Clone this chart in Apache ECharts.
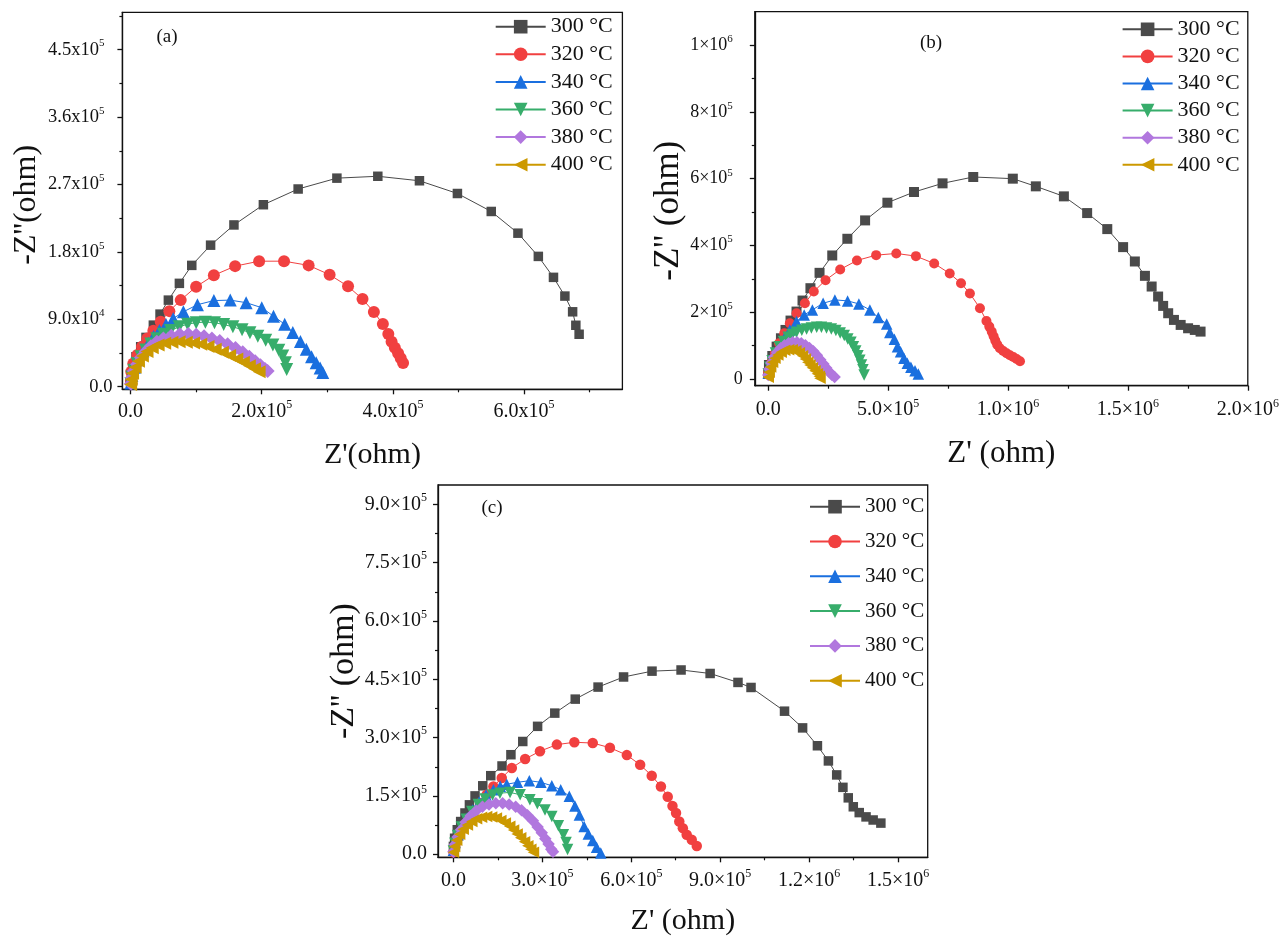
<!DOCTYPE html>
<html>
<head>
<meta charset="utf-8">
<script src="https://cdn.jsdelivr.net/npm/echarts@6/dist/echarts.min.js"></script>
<style>
  html, body { margin: 0; padding: 0; background: #fff; }
  #chart { width: 1283px; height: 936px; }
</style>
</head>
<body>
<div id="chart"></div>
<script>
var names = ['300 °C', '320 °C', '340 °C', '360 °C', '380 °C', '400 °C'];

// ---- panel (a) ----
var aXTicks = [0, 2e5, 4e5, 6e5];
var aXLabels = ['0.0', '2.0x10^5', '4.0x10^5', '6.0x10^5'];
var aXMinor = [1e5, 3e5, 5e5, 7e5];
var aYTicks = [0, 9e4, 1.8e5, 2.7e5, 3.6e5, 4.5e5];
var aYLabels = ['0.0', '9.0x10^4', '1.8x10^5', '2.7x10^5', '3.6x10^5', '4.5x10^5'];
var aYMinor = [4.5e4, 1.35e5, 2.25e5, 3.15e5, 4.05e5, 4.95e5];

var a300 = [[0, 0.4e4], [0.012e5, 1.56e4], [0.032e5, 2.76e4], [0.082e5, 4.0e4], [0.154e5, 5.33e4],
  [0.235e5, 6.58e4], [0.347e5, 8.22e4], [0.449e5, 9.69e4], [0.576e5, 11.56e4], [0.744e5, 13.8e4],
  [0.933e5, 16.2e4], [1.22e5, 18.9e4], [1.576e5, 21.6e4], [2.025e5, 24.3e4], [2.555e5, 26.4e4],
  [3.146e5, 27.85e4], [3.77e5, 28.1e4], [4.405e5, 27.5e4], [4.984e5, 25.8e4], [5.5e5, 23.4e4],
  [5.907e5, 20.5e4], [6.218e5, 17.4e4], [6.449e5, 14.6e4], [6.623e5, 12.1e4], [6.741e5, 10.0e4],
  [6.79e5, 8.2e4], [6.84e5, 7.0e4]];
var a320 = [[0.005e5, 0.8e4], [0.01e5, 2.0e4], [0.042e5, 3.11e4], [0.103e5, 4.22e4], [0.174e5, 5.33e4],
  [0.255e5, 6.44e4], [0.347e5, 7.47e4], [0.459e5, 8.67e4], [0.591e5, 10.09e4], [0.764e5, 11.56e4],
  [0.999e5, 13.35e4], [1.27e5, 14.88e4], [1.594e5, 16.1e4], [1.96e5, 16.76e4], [2.34e5, 16.76e4],
  [2.715e5, 16.2e4], [3.035e5, 14.95e4], [3.316e5, 13.4e4], [3.537e5, 11.7e4], [3.71e5, 9.97e4],
  [3.847e5, 8.36e4], [3.93e5, 7.03e4], [3.98e5, 6.0e4], [4.03e5, 5.2e4], [4.08e5, 4.45e4],
  [4.12e5, 3.8e4], [4.155e5, 3.15e4]];
var a340 = [[0.005e5, 0.5e4], [0.02e5, 1.5e4], [0.06e5, 2.6e4], [0.12e5, 3.7e4], [0.19e5, 4.8e4],
  [0.27e5, 5.8e4], [0.35e5, 6.7e4], [0.44e5, 7.5e4], [0.54e5, 8.3e4], [0.65e5, 9.1e4],
  [0.805e5, 10.0e4], [1.019e5, 10.95e4], [1.27e5, 11.5e4], [1.52e5, 11.56e4], [1.762e5, 11.22e4],
  [2.0e5, 10.55e4], [2.179e5, 9.42e4], [2.35e5, 8.34e4], [2.474e5, 7.25e4], [2.59e5, 6.05e4],
  [2.68e5, 5.0e4], [2.76e5, 4.0e4], [2.83e5, 3.2e4], [2.89e5, 2.5e4], [2.93e5, 1.9e4]];
var a360 = [[0.005e5, 0.4e4], [0.02e5, 1.3e4], [0.05e5, 2.2e4], [0.1e5, 3.1e4], [0.16e5, 4.0e4],
  [0.23e5, 4.9e4], [0.31e5, 5.7e4], [0.4e5, 6.4e4], [0.5e5, 7.0e4], [0.61e5, 7.5e4],
  [0.74e5, 8.0e4], [0.87e5, 8.35e4], [1.0e5, 8.55e4], [1.14e5, 8.62e4], [1.28e5, 8.55e4],
  [1.42e5, 8.3e4], [1.56e5, 8.0e4], [1.7e5, 7.6e4], [1.82e5, 7.2e4], [1.94e5, 6.75e4],
  [2.06e5, 6.2e4], [2.17e5, 5.55e4], [2.26e5, 4.85e4], [2.32e5, 4.1e4], [2.36e5, 3.2e4],
  [2.38e5, 2.3e4]];
var a380 = [[0.005e5, 0.4e4], [0.02e5, 1.2e4], [0.05e5, 2.1e4], [0.1e5, 3.0e4], [0.16e5, 3.9e4],
  [0.23e5, 4.7e4], [0.31e5, 5.4e4], [0.4e5, 6.0e4], [0.5e5, 6.45e4], [0.62e5, 6.8e4],
  [0.75e5, 7.0e4], [0.88e5, 7.05e4], [1.0e5, 6.95e4], [1.12e5, 6.75e4], [1.24e5, 6.45e4],
  [1.36e5, 6.1e4], [1.48e5, 5.65e4], [1.6e5, 5.15e4], [1.71e5, 4.6e4], [1.81e5, 4.0e4],
  [1.9e5, 3.4e4], [1.98e5, 2.85e4], [2.05e5, 2.35e4], [2.09e5, 2.1e4]];
var a400 = [[0, 0.3e4], [0.01e5, 1.0e4], [0.03e5, 1.8e4], [0.07e5, 2.6e4], [0.12e5, 3.4e4],
  [0.18e5, 4.1e4], [0.25e5, 4.7e4], [0.33e5, 5.2e4], [0.42e5, 5.55e4], [0.52e5, 5.8e4],
  [0.63e5, 5.95e4], [0.74e5, 6.0e4], [0.85e5, 5.95e4], [0.96e5, 5.85e4], [1.07e5, 5.65e4],
  [1.18e5, 5.35e4], [1.29e5, 5.0e4], [1.4e5, 4.6e4], [1.51e5, 4.15e4], [1.62e5, 3.7e4],
  [1.72e5, 3.25e4], [1.81e5, 2.8e4], [1.89e5, 2.4e4], [1.96e5, 2.0e4]];

// ---- panel (b) ----
var bXTicks = [0, 5e5, 1e6, 1.5e6, 2e6];
var bXLabels = ['0.0', '5.0×10^5', '1.0×10^6', '1.5×10^6', '2.0×10^6'];
var bXMinor = [2.5e5, 7.5e5, 1.25e6, 1.75e6];
var bYTicks = [0, 2e5, 4e5, 6e5, 8e5, 1e6];
var bYLabels = ['0', '2×10^5', '4×10^5', '6×10^5', '8×10^5', '1×10^6'];
var bYMinor = [1e5, 3e5, 5e5, 7e5, 9e5];

var b300 = [[0, 0.17e5], [0.03e5, 0.42e5], [0.17e5, 0.69e5], [0.35e5, 0.97e5], [0.53e5, 1.22e5],
  [0.72e5, 1.47e5], [0.93e5, 1.75e5], [1.18e5, 2.02e5], [1.43e5, 2.35e5], [1.76e5, 2.72e5],
  [2.14e5, 3.18e5], [2.67e5, 3.7e5], [3.3e5, 4.2e5], [4.04e5, 4.75e5], [4.97e5, 5.28e5],
  [6.08e5, 5.6e5], [7.27e5, 5.86e5], [8.55e5, 6.05e5], [10.2e5, 6.0e5], [11.16e5, 5.77e5],
  [12.33e5, 5.47e5], [13.3e5, 4.97e5], [14.14e5, 4.49e5], [14.8e5, 3.95e5], [15.29e5, 3.52e5],
  [15.71e5, 3.09e5], [15.99e5, 2.77e5], [16.26e5, 2.47e5], [16.47e5, 2.19e5], [16.68e5, 1.97e5],
  [16.92e5, 1.77e5], [17.2e5, 1.62e5], [17.51e5, 1.52e5], [17.79e5, 1.47e5], [18.03e5, 1.42e5]];
var b320 = [[0, 0.22e5], [0.11e5, 0.47e5], [0.28e5, 0.77e5], [0.45e5, 1.07e5], [0.67e5, 1.37e5],
  [0.9e5, 1.67e5], [1.18e5, 1.97e5], [1.53e5, 2.27e5], [1.9e5, 2.62e5], [2.39e5, 2.96e5],
  [3.0e5, 3.28e5], [3.7e5, 3.55e5], [4.5e5, 3.71e5], [5.34e5, 3.76e5], [6.16e5, 3.68e5],
  [6.92e5, 3.46e5], [7.57e5, 3.16e5], [8.04e5, 2.87e5], [8.41e5, 2.56e5], [8.83e5, 2.12e5],
  [9.1e5, 1.74e5], [9.22e5, 1.57e5], [9.32e5, 1.42e5], [9.4e5, 1.28e5], [9.47e5, 1.15e5],
  [9.55e5, 1.03e5], [9.66e5, 0.92e5], [9.8e5, 0.84e5], [9.94e5, 0.77e5], [10.08e5, 0.71e5],
  [10.22e5, 0.66e5], [10.36e5, 0.6e5], [10.5e5, 0.53e5]];
var b340 = [[0, 0.17e5], [0.085e5, 0.42e5], [0.25e5, 0.69e5], [0.45e5, 0.97e5], [0.67e5, 1.22e5],
  [0.9e5, 1.47e5], [1.18e5, 1.72e5], [1.5e5, 1.92e5], [1.84e5, 2.07e5], [2.29e5, 2.27e5],
  [2.78e5, 2.37e5], [3.31e5, 2.34e5], [3.78e5, 2.25e5], [4.24e5, 2.07e5], [4.59e5, 1.84e5],
  [4.94e5, 1.65e5], [5.07e5, 1.39e5], [5.26e5, 1.19e5], [5.39e5, 0.97e5], [5.52e5, 0.82e5],
  [5.66e5, 0.62e5], [5.8e5, 0.47e5], [5.95e5, 0.35e5], [6.12e5, 0.25e5], [6.26e5, 0.15e5]];
var b360 = [[0, 0.15e5], [0.06e5, 0.35e5], [0.16e5, 0.55e5], [0.3e5, 0.78e5], [0.46e5, 0.97e5],
  [0.64e5, 1.12e5], [0.835e5, 1.25e5], [1.0e5, 1.33e5], [1.18e5, 1.4e5], [1.4e5, 1.46e5],
  [1.6e5, 1.5e5], [1.8e5, 1.53e5], [2.02e5, 1.55e5], [2.22e5, 1.55e5], [2.43e5, 1.53e5],
  [2.63e5, 1.5e5], [2.82e5, 1.45e5], [3.0e5, 1.38e5], [3.17e5, 1.3e5], [3.32e5, 1.2e5],
  [3.45e5, 1.1e5], [3.55e5, 0.97e5], [3.65e5, 0.84e5], [3.74e5, 0.7e5], [3.82e5, 0.56e5],
  [3.89e5, 0.42e5], [3.95e5, 0.28e5], [4.0e5, 0.12e5]];
var b380 = [[0, 0.12e5], [0.05e5, 0.3e5], [0.13e5, 0.48e5], [0.24e5, 0.65e5], [0.37e5, 0.8e5],
  [0.52e5, 0.92e5], [0.68e5, 1.01e5], [0.85e5, 1.07e5], [1.02e5, 1.1e5], [1.2e5, 1.1e5],
  [1.38e5, 1.07e5], [1.55e5, 1.01e5], [1.72e5, 0.93e5], [1.88e5, 0.83e5], [2.03e5, 0.71e5],
  [2.17e5, 0.58e5], [2.3e5, 0.45e5], [2.42e5, 0.33e5], [2.54e5, 0.22e5], [2.65e5, 0.13e5],
  [2.77e5, 0.06e5]];
var b400 = [[0, 0.05e5], [0.04e5, 0.2e5], [0.1e5, 0.36e5], [0.18e5, 0.5e5], [0.28e5, 0.62e5],
  [0.4e5, 0.72e5], [0.54e5, 0.8e5], [0.69e5, 0.86e5], [0.85e5, 0.88e5], [1.0e5, 0.88e5],
  [1.15e5, 0.85e5], [1.3e5, 0.79e5], [1.43e5, 0.7e5], [1.55e5, 0.6e5], [1.65e5, 0.5e5],
  [1.74e5, 0.42e5], [1.84e5, 0.34e5], [1.95e5, 0.25e5], [2.05e5, 0.16e5], [2.13e5, 0.08e5],
  [2.16e5, 0.02e5]];

// ---- panel (c) ----
var cXTicks = [0, 3e5, 6e5, 9e5, 1.2e6, 1.5e6];
var cXLabels = ['0.0', '3.0×10^5', '6.0×10^5', '9.0×10^5', '1.2×10^6', '1.5×10^6'];
var cXMinor = [1.5e5, 4.5e5, 7.5e5, 1.05e6, 1.35e6];
var cYTicks = [0, 1.5e5, 3e5, 4.5e5, 6e5, 7.5e5, 9e5];
var cYLabels = ['0.0', '1.5×10^5', '3.0×10^5', '4.5×10^5', '6.0×10^5', '7.5×10^5', '9.0×10^5'];
var cYMinor = [7.5e4, 2.25e5, 3.75e5, 5.25e5, 6.75e5, 8.25e5];

var c300 = [[0, 0.2e5], [0.04e5, 0.41e5], [0.13e5, 0.63e5], [0.245e5, 0.84e5], [0.39e5, 1.06e5],
  [0.54e5, 1.27e5], [0.73e5, 1.5e5], [0.99e5, 1.76e5], [1.26e5, 2.02e5], [1.64e5, 2.27e5],
  [1.94e5, 2.56e5], [2.34e5, 2.9e5], [2.84e5, 3.29e5], [3.42e5, 3.63e5], [4.11e5, 3.99e5],
  [4.88e5, 4.3e5], [5.74e5, 4.56e5], [6.7e5, 4.71e5], [7.68e5, 4.74e5], [8.66e5, 4.65e5],
  [9.6e5, 4.42e5], [10.04e5, 4.29e5], [11.17e5, 3.68e5], [11.78e5, 3.25e5], [12.28e5, 2.79e5],
  [12.65e5, 2.4e5], [12.93e5, 2.04e5], [13.14e5, 1.72e5], [13.32e5, 1.45e5], [13.49e5, 1.22e5],
  [13.69e5, 1.07e5], [13.92e5, 0.96e5], [14.16e5, 0.88e5], [14.42e5, 0.8e5]];
var c320 = [[0, 0.05e5], [0.06e5, 0.22e5], [0.18e5, 0.44e5], [0.33e5, 0.66e5], [0.5e5, 0.88e5],
  [0.7e5, 1.1e5], [0.9e5, 1.32e5], [1.12e5, 1.53e5], [1.35e5, 1.74e5], [1.63e5, 1.96e5],
  [1.97e5, 2.22e5], [2.42e5, 2.45e5], [2.92e5, 2.65e5], [3.49e5, 2.82e5], [4.08e5, 2.88e5],
  [4.7e5, 2.86e5], [5.28e5, 2.74e5], [5.85e5, 2.55e5], [6.3e5, 2.3e5], [6.69e5, 2.02e5],
  [7.0e5, 1.74e5], [7.23e5, 1.48e5], [7.39e5, 1.24e5], [7.51e5, 1.06e5], [7.62e5, 0.84e5],
  [7.74e5, 0.67e5], [7.87e5, 0.5e5], [8.04e5, 0.37e5], [8.21e5, 0.21e5]];
var c340 = [[0, 0.1e5], [0.06e5, 0.3e5], [0.16e5, 0.5e5], [0.3e5, 0.72e5], [0.46e5, 0.93e5],
  [0.65e5, 1.14e5], [0.87e5, 1.34e5], [1.1e5, 1.52e5], [1.35e5, 1.66e5], [1.58e5, 1.75e5],
  [1.8e5, 1.8e5], [2.16e5, 1.85e5], [2.56e5, 1.89e5], [2.95e5, 1.85e5], [3.32e5, 1.76e5],
  [3.62e5, 1.66e5], [3.91e5, 1.49e5], [4.1e5, 1.24e5], [4.25e5, 1.01e5], [4.41e5, 0.71e5],
  [4.55e5, 0.52e5], [4.7e5, 0.35e5], [4.83e5, 0.18e5], [4.97e5, 0.03e5]];
var c360 = [[0, 0.08e5], [0.05e5, 0.28e5], [0.14e5, 0.48e5], [0.27e5, 0.7e5], [0.43e5, 0.9e5],
  [0.62e5, 1.1e5], [0.84e5, 1.28e5], [1.07e5, 1.42e5], [1.32e5, 1.52e5], [1.57e5, 1.57e5],
  [1.91e5, 1.59e5], [2.25e5, 1.53e5], [2.58e5, 1.4e5], [2.83e5, 1.3e5], [3.09e5, 1.14e5],
  [3.32e5, 0.97e5], [3.54e5, 0.73e5], [3.71e5, 0.5e5], [3.8e5, 0.3e5], [3.85e5, 0.12e5]];
var c380 = [[0, 0.06e5], [0.05e5, 0.25e5], [0.14e5, 0.44e5], [0.26e5, 0.63e5], [0.41e5, 0.82e5],
  [0.58e5, 0.98e5], [0.77e5, 1.12e5], [0.98e5, 1.22e5], [1.2e5, 1.28e5], [1.43e5, 1.31e5],
  [1.66e5, 1.31e5], [1.88e5, 1.28e5], [2.1e5, 1.22e5], [2.3e5, 1.13e5], [2.5e5, 1.0e5],
  [2.68e5, 0.86e5], [2.84e5, 0.7e5], [2.98e5, 0.55e5], [3.1e5, 0.4e5], [3.21e5, 0.26e5],
  [3.3e5, 0.13e5], [3.36e5, 0.06e5]];
var c400 = [[0, 0.05e5], [0.04e5, 0.2e5], [0.11e5, 0.36e5], [0.21e5, 0.51e5], [0.33e5, 0.64e5],
  [0.47e5, 0.75e5], [0.62e5, 0.84e5], [0.78e5, 0.91e5], [0.95e5, 0.95e5], [1.12e5, 0.97e5],
  [1.29e5, 0.96e5], [1.45e5, 0.93e5], [1.6e5, 0.87e5], [1.75e5, 0.8e5], [1.9e5, 0.72e5],
  [2.03e5, 0.62e5], [2.15e5, 0.52e5], [2.27e5, 0.42e5], [2.4e5, 0.32e5], [2.51e5, 0.22e5],
  [2.61e5, 0.13e5], [2.7e5, 0.05e5]];

var FONT = '"Liberation Serif", "Times New Roman", serif';
var INK = '#111';
var colors = ['#4a4a4a', '#f14040', '#1a6fdf', '#37ad6b', '#b177de', '#cc9900'];
var symbols = ['rect', 'circle', 'triangle', 'triangle', 'diamond', 'triangle'];
var rotates = [0, 0, 0, 180, 0, 90];

var chart = echarts.init(document.getElementById('chart'));

function labelFmt(ticks, labels) {
  return function (v) {
    var i = ticks.findIndex(function (t) { return Math.abs(t - v) < 1; });
    if (i < 0) return '';
    var p = labels[i].split('^');
    return p.length > 1 ? '{m|' + p[0] + '}{s|' + p[1] + '}' : '{m|' + p[0] + '}';
  };
}

function richFor(size, padRight) {
  var sup = Math.round(size * 0.62);
  return {
    m: { fontSize: size, fontFamily: FONT, color: INK, lineHeight: size + 5 },
    s: { fontSize: sup, fontFamily: FONT, color: INK, verticalAlign: 'top', lineHeight: sup, padding: [0, padRight || 0, 0, 0] }
  };
}

// shift: moves a rotated y title down the page (text padding on its right side)
function mainAxis(grid, min, max, ticks, labels, fsize, margin, padRight, name, nsize, gap, pos, shift) {
  return {
    type: 'value', gridIndex: grid, min: min, max: max, position: pos,
    axisLine: { show: true, onZero: false, lineStyle: { color: INK, width: 1.3 } },
    axisTick: { show: true, customValues: ticks, length: 5, lineStyle: { color: INK, width: 1.3 } },
    axisLabel: { customValues: ticks, formatter: labelFmt(ticks, labels), rich: richFor(fsize, padRight), margin: margin },
    splitLine: { show: false },
    name: name, nameLocation: 'middle', nameGap: gap,
    nameTextStyle: { fontSize: nsize, fontFamily: FONT, color: INK, padding: [0, (shift || 0) * 2, 0, 0] }
  };
}

function minorAxis(grid, min, max, ticks, pos) {
  return {
    type: 'value', gridIndex: grid, min: min, max: max, position: pos,
    axisLine: { show: false, onZero: false },
    axisTick: { show: true, customValues: ticks, length: 3, lineStyle: { color: INK, width: 1.2 } },
    axisLabel: { show: false },
    splitLine: { show: false }
  };
}

var panels = [
  { data: [a300, a320, a340, a360, a380, a400], sizes: [9.5, 12, 13, 13, 14, 13] },
  { data: [b300, b320, b340, b360, b380, b400], sizes: [10, 10, 11.5, 11.5, 12.5, 11.5] },
  { data: [c300, c320, c340, c360, c380, c400], sizes: [9.5, 10.5, 11.5, 11.5, 12.5, 11.5] }
];

var series = [];
panels.forEach(function (p, gi) {
  p.data.forEach(function (d, k) {
    series.push({
      type: 'line', name: names[k], xAxisIndex: gi, yAxisIndex: gi, data: d,
      symbol: symbols[k], symbolRotate: rotates[k], symbolSize: p.sizes[k],
      showAllSymbol: true, clip: false,
      lineStyle: { color: colors[k], width: 1 },
      itemStyle: { color: colors[k] },
      emphasis: { disabled: true }
    });
  });
});

function legendAt(left, top, gap, fsize) {
  return {
    data: names, orient: 'vertical', left: left, top: top, itemGap: gap, padding: 0,
    itemWidth: 50, itemHeight: 17, selectedMode: false,
    textStyle: { fontSize: fsize, fontFamily: FONT, color: INK, lineHeight: 22 }
  };
}

var gridBox = { show: true, borderColor: INK, borderWidth: 1.3, backgroundColor: 'transparent', containLabel: false, outerBoundsMode: 'none' };

var option = {
  animation: false,
  backgroundColor: '#fff',
  grid: [
    Object.assign({ left: 122.4, top: 12.3, width: 500, height: 377 }, gridBox),
    Object.assign({ left: 754.8, top: 11.7, width: 493, height: 374 }, gridBox),
    Object.assign({ left: 438, top: 485, width: 489.7, height: 372.3 }, gridBox)
  ],
  xAxis: [
    mainAxis(0, -1.25e4, 7.5e5, aXTicks, aXLabels, 20, 10, 0, "Z'(ohm)", 30, 51, 'bottom'),
    mainAxis(1, -5.6e4, 2e6, bXTicks, bXLabels, 20, 12, 0, "Z' (ohm)", 31, 53, 'bottom'),
    mainAxis(2, -5.2e4, 1.6e6, cXTicks, cXLabels, 20, 11, 0, "Z' (ohm)", 30, 49, 'bottom'),
    minorAxis(0, -1.25e4, 7.5e5, aXMinor, 'bottom'),
    minorAxis(1, -5.6e4, 2e6, bXMinor, 'bottom'),
    minorAxis(2, -5.2e4, 1.6e6, cXMinor, 'bottom')
  ],
  yAxis: [
    mainAxis(0, -3.5e3, 5.0e5, aYTicks, aYLabels, 18.5, 10, 8, "-Z''(ohm)", 32, 80, 'left', 4),
    mainAxis(1, -2e4, 1.1e6, bYTicks, bYLabels, 18, 12, 10, "-Z'' (ohm)", 35, 66, 'left', 12),
    mainAxis(2, -8e3, 9.5e5, cYTicks, cYLabels, 20, 11, 0, "-Z'' (ohm)", 34, 73, 'left', 0),
    minorAxis(0, -3.5e3, 5.0e5, aYMinor, 'left'),
    minorAxis(1, -2e4, 1.1e6, bYMinor, 'left'),
    minorAxis(2, -8e3, 9.5e5, cYMinor, 'left')
  ],
  legend: [
    legendAt(494.7, 15.7, 5.6, 22),
    legendAt(1121.6, 18.3, 5.1, 22),
    legendAt(809, 495.7, 12.8, 21)
  ],
  graphic: [
    { type: 'text', x: 167, y: 37, style: { text: '(a)', fontSize: 19, fontFamily: FONT, fill: INK, align: 'center', verticalAlign: 'middle' } },
    { type: 'text', x: 931, y: 43, style: { text: '(b)', fontSize: 19, fontFamily: FONT, fill: INK, align: 'center', verticalAlign: 'middle' } },
    { type: 'text', x: 492, y: 508, style: { text: '(c)', fontSize: 19, fontFamily: FONT, fill: INK, align: 'center', verticalAlign: 'middle' } }
  ],
  series: series
};

chart.setOption(option);
</script>
</body>
</html>
